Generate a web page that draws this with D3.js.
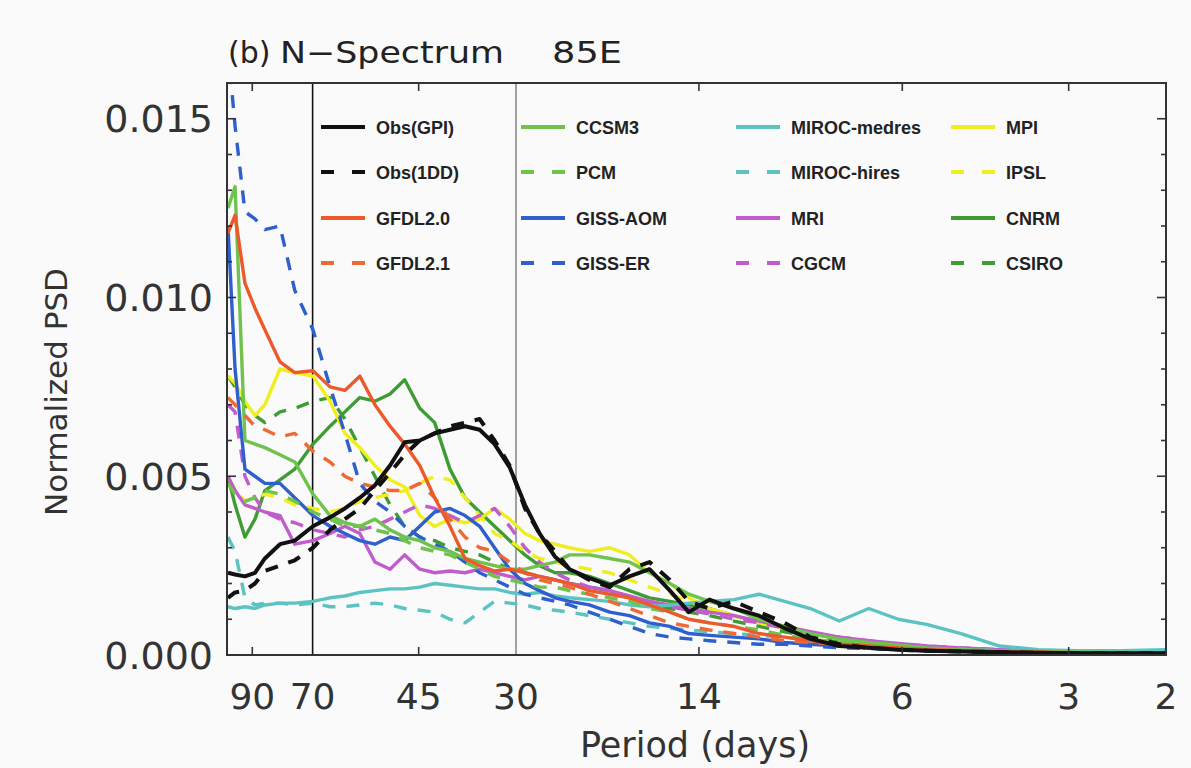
<!DOCTYPE html>
<html><head><meta charset="utf-8">
<script src="https://cdn.jsdelivr.net/npm/d3@7"></script>
<style>body{margin:0;background:#fafafa;} svg{display:block;}</style>
</head><body><svg id="chart" width="1191" height="768"></svg>
<script>
// Period (days) sample points
const periods = [99.6, 96.7, 92.8, 89.0, 85.4, 80.2, 75.4, 69.9, 65.1, 61.2, 57.5, 54.0, 50.7, 47.7, 44.8, 42.1, 39.5, 37.1, 34.9, 32.8, 30.8, 28.9, 27.2, 25.5, 24.0, 22.1, 20.3, 18.7, 17.2, 15.8, 14.6, 13.4, 12.1, 10.9, 9.8, 8.8, 7.8, 6.9, 6.1, 5.4, 4.7, 4.0, 3.4, 2.9, 2.4, 2.0];

// Normalized PSD values, in units of 1e-3
const obsGPI   = [2.3,2.25,2.2,2.3,2.7,3.1,3.2,3.6,3.85,4.1,4.4,4.75,5.3,5.95,6.0,6.2,6.3,6.4,6.3,5.9,5.25,4.2,3.4,2.75,2.4,2.15,1.95,2.2,2.4,1.8,1.2,1.55,1.3,1.1,0.75,0.45,0.25,0.2,0.15,0.12,0.1,0.08,0.06,0.05,0.05,0.05];
const obs1DD   = [1.6,1.75,1.8,2.0,2.35,2.5,2.65,3.0,3.5,3.8,4.1,4.6,5.1,5.6,6.0,6.2,6.4,6.5,6.6,6.0,5.3,4.1,3.4,2.9,2.4,2.1,1.9,2.4,2.6,2.1,1.5,1.3,1.5,1.2,0.9,0.5,0.3,0.2,0.15,0.12,0.1,0.08,0.06,0.05,0.05,0.05];
const gfdl20   = [11.8,12.3,10.4,9.7,9.1,8.2,7.9,7.95,7.5,7.4,7.8,7.0,6.4,5.9,5.3,4.4,3.6,2.7,2.5,2.35,2.4,2.3,2.2,2.1,2.0,1.8,1.7,1.6,1.4,1.2,1.0,0.9,0.8,0.6,0.5,0.4,0.3,0.25,0.2,0.15,0.12,0.1,0.08,0.06,0.06,0.05];
const gfdl21   = [7.2,7.0,6.7,6.4,6.3,6.1,6.2,5.7,5.4,5.0,4.8,4.7,4.6,4.6,4.8,4.4,3.8,3.3,3.0,2.9,2.6,2.3,2.1,2.0,1.9,1.7,1.5,1.3,1.1,0.9,0.8,0.7,0.6,0.5,0.4,0.35,0.3,0.22,0.18,0.14,0.12,0.1,0.08,0.06,0.05,0.05];
const ccsm3    = [12.5,13.1,6.0,5.9,5.8,5.6,5.4,4.5,3.9,3.7,3.6,3.8,3.5,3.3,3.2,3.0,2.9,2.7,2.6,2.5,2.4,2.4,2.5,2.6,2.8,2.8,2.7,2.6,2.3,2.0,1.7,1.5,1.3,1.0,0.8,0.6,0.45,0.35,0.28,0.2,0.15,0.12,0.1,0.08,0.07,0.06];
const pcm      = [4.8,4.5,4.3,4.4,4.6,4.5,4.3,4.0,3.8,3.6,3.6,3.5,3.4,3.2,3.0,2.9,2.8,2.6,2.4,2.2,2.1,2.0,1.9,1.9,1.8,1.7,1.6,1.5,1.3,1.2,1.0,0.9,0.8,0.7,0.55,0.45,0.35,0.28,0.22,0.17,0.13,0.1,0.08,0.07,0.06,0.06];
const gissAOM  = [12.0,8.0,5.2,5.0,4.8,4.8,4.4,3.9,3.6,3.4,3.2,3.1,3.3,3.2,3.6,4.0,4.1,3.9,3.6,3.0,2.4,2.0,1.8,1.6,1.5,1.4,1.2,1.1,0.9,0.8,0.6,0.55,0.5,0.45,0.35,0.3,0.25,0.2,0.16,0.12,0.1,0.08,0.06,0.05,0.05,0.05];
const gissER   = [17.0,14.8,12.4,12.2,11.9,12.0,10.2,9.1,7.5,6.2,4.8,4.3,4.0,3.6,3.3,3.1,2.9,2.6,2.3,2.1,1.9,1.7,1.6,1.5,1.4,1.2,1.0,0.8,0.6,0.5,0.45,0.4,0.35,0.3,0.3,0.25,0.2,0.18,0.15,0.12,0.1,0.08,0.06,0.05,0.05,0.05];
const mirocMed = [1.35,1.3,1.35,1.3,1.4,1.45,1.45,1.5,1.6,1.65,1.75,1.8,1.85,1.85,1.9,2.0,1.95,1.9,1.85,1.85,1.75,1.7,1.75,1.65,1.6,1.55,1.5,1.4,1.35,1.4,1.45,1.5,1.55,1.7,1.5,1.3,0.95,1.3,1.0,0.85,0.6,0.25,0.15,0.12,0.12,0.15];
const mirocHi  = [3.3,2.9,1.6,1.4,1.45,1.45,1.4,1.45,1.35,1.35,1.4,1.45,1.4,1.3,1.25,1.2,1.0,0.9,1.2,1.5,1.45,1.4,1.3,1.25,1.2,1.1,1.0,0.9,0.8,0.75,0.7,0.65,0.6,0.55,0.5,0.4,0.35,0.3,0.25,0.2,0.16,0.12,0.1,0.09,0.1,0.12];
const mri      = [5.0,4.6,4.2,4.1,4.0,3.9,3.1,3.2,3.4,3.6,3.4,2.6,2.4,2.8,2.4,2.3,2.35,2.3,2.4,2.3,2.2,2.1,2.2,2.1,2.0,1.9,1.8,1.65,1.5,1.4,1.3,1.2,1.1,0.95,0.8,0.65,0.5,0.4,0.32,0.25,0.2,0.15,0.12,0.1,0.1,0.1];
const cgcm     = [7.0,6.8,5.0,4.4,4.0,3.8,3.7,3.5,3.4,3.3,3.5,3.6,3.8,4.0,4.2,4.1,3.9,3.7,3.9,4.1,3.6,3.0,2.6,2.3,2.1,1.9,1.8,1.6,1.5,1.35,1.25,1.15,1.0,0.9,0.75,0.6,0.5,0.4,0.3,0.25,0.2,0.15,0.12,0.1,0.1,0.1];
const mpi      = [7.8,7.6,7.1,6.7,7.0,8.0,7.9,7.8,7.1,6.2,5.8,5.3,4.9,4.7,3.9,3.6,3.8,3.7,3.8,4.1,3.8,3.4,3.2,3.1,3.0,2.9,3.0,2.8,2.3,2.0,1.6,1.3,1.1,0.9,0.75,0.6,0.45,0.35,0.28,0.22,0.17,0.12,0.1,0.08,0.07,0.06];
const ipsl     = [5.0,4.6,4.3,4.4,4.5,4.4,4.2,4.1,4.0,4.1,4.3,4.4,4.5,4.6,4.8,5.0,4.9,4.4,3.9,3.4,3.2,2.9,2.7,2.6,2.5,2.4,2.3,2.1,1.9,1.7,1.5,1.3,1.1,0.9,0.75,0.6,0.45,0.35,0.28,0.22,0.17,0.12,0.1,0.08,0.07,0.06];
const cnrm     = [5.0,4.2,3.3,3.8,4.6,4.9,5.2,5.9,6.4,6.8,7.2,7.1,7.3,7.7,6.9,6.5,5.2,4.4,4.0,3.6,3.2,2.8,2.5,2.3,2.3,2.2,2.0,1.8,1.6,1.5,1.4,1.3,1.1,0.9,0.8,0.6,0.45,0.35,0.28,0.2,0.15,0.12,0.1,0.09,0.08,0.07];
const csiro    = [7.8,7.5,7.0,6.7,6.5,6.8,6.9,7.1,7.2,6.6,5.8,5.0,4.2,3.6,3.3,3.2,3.0,2.9,2.8,2.6,2.4,2.3,2.2,2.1,2.0,1.9,1.8,1.6,1.4,1.3,1.2,1.1,0.95,0.8,0.65,0.5,0.4,0.3,0.25,0.2,0.15,0.12,0.1,0.09,0.08,0.07];

const seriesNames = ["Obs(GPI)","Obs(1DD)","GFDL2.0","GFDL2.1","CCSM3","PCM","GISS-AOM","GISS-ER","MIROC-medres","MIROC-hires","MRI","CGCM","MPI","IPSL","CNRM","CSIRO"];
const seriesValues = [obsGPI,obs1DD,gfdl20,gfdl21,ccsm3,pcm,gissAOM,gissER,mirocMed,mirocHi,mri,cgcm,mpi,ipsl,cnrm,csiro];
const seriesColors = ["#111111","#111111","#ec5a2c","#ec6a34","#6fc24e","#6fc24e","#2f5fcc","#2f5fcc","#5cc3c3","#5cc3c3","#c05ccc","#c05ccc","#f0ee1e","#f0ee1e","#3f9c35","#3f9c35"];
const seriesDashed = [false,true,false,true,false,true,false,true,false,true,false,true,false,true,false,true];

const xTickValues = [90, 70, 45, 30, 14, 6, 3, 2];
const yMajorTicks = [0, 0.005, 0.010, 0.015];
const yMinorTicks = d3.range(0, 0.0161, 0.001);

const svg = d3.select("#chart");
const L = 227, R = 1166, T = 83, B = 655;
const x = d3.scaleLog().domain([100, 2]).range([L, R]);
const y = d3.scaleLinear().domain([0, 0.016]).range([B, T]);
const FONT = "'DejaVu Sans', sans-serif";

svg.append("rect").attr("width",1191).attr("height",768).attr("fill","#fafafa");

svg.append("defs").append("clipPath").attr("id","clip")
  .append("rect").attr("x",L).attr("y",T).attr("width",R-L).attr("height",B-T);

// vertical reference lines
svg.append("line").attr("x1",x(70)).attr("x2",x(70)).attr("y1",T).attr("y2",B)
  .attr("stroke","#111").attr("stroke-width",1.6);
svg.append("line").attr("x1",x(30)).attr("x2",x(30)).attr("y1",T).attr("y2",B)
  .attr("stroke","#8a8a8a").attr("stroke-width",1.6);

// series
const data = seriesNames.map((n,i)=>({name:n, color:seriesColors[i], dashed:seriesDashed[i],
  pts: periods.map((p,j)=>[p, seriesValues[i][j]/1000])}));
const line = d3.line().x(d=>x(d[0])).y(d=>y(d[1]));
const drawOrder = d3.range(data.length).reverse();
const gLines = svg.append("g").attr("clip-path","url(#clip)");
drawOrder.forEach(i=>{
  const s = data[i];
  gLines.append("path").attr("d", line(s.pts)).attr("fill","none")
    .attr("stroke", s.color).attr("stroke-width", i<2 ? 4 : 3.4)
    .attr("stroke-linejoin","round")
    .attr("stroke-dasharray", s.dashed ? "13,11" : null);
});

// frame
svg.append("rect").attr("x",L).attr("y",T).attr("width",R-L).attr("height",B-T)
  .attr("fill","none").attr("stroke","#333").attr("stroke-width",2);

// y ticks (left and right, inward)
yMinorTicks.forEach(v=>{
  const major = yMajorTicks.some(m=>Math.abs(m-v)<1e-9);
  const len = major ? 9 : 5;
  svg.append("line").attr("x1",L).attr("x2",L+len).attr("y1",y(v)).attr("y2",y(v)).attr("stroke","#333").attr("stroke-width",1.6);
  svg.append("line").attr("x1",R).attr("x2",R-len).attr("y1",y(v)).attr("y2",y(v)).attr("stroke","#333").attr("stroke-width",1.6);
});
yMajorTicks.forEach(v=>{
  svg.append("text").attr("x",213).attr("y",y(v)+13.5).attr("text-anchor","end")
    .attr("font-family",FONT).attr("font-size",38).attr("fill","#333").text(d3.format(".3f")(v));
});

// x ticks
xTickValues.forEach(p=>{
  if (p!==70 && p!==30 && p!==2) {
    svg.append("line").attr("x1",x(p)).attr("x2",x(p)).attr("y1",B).attr("y2",B-8).attr("stroke","#333").attr("stroke-width",1.6);
    svg.append("line").attr("x1",x(p)).attr("x2",x(p)).attr("y1",T).attr("y2",T+8).attr("stroke","#333").attr("stroke-width",1.6);
  }
  svg.append("text").attr("x",x(p)).attr("y",709).attr("text-anchor","middle")
    .attr("font-family",FONT).attr("font-size",36).attr("fill","#333").text(p);
});

// axis titles
svg.append("text").attr("x",695).attr("y",757).attr("text-anchor","middle")
  .attr("font-family",FONT).attr("font-size",35).attr("fill","#333").text("Period (days)");
svg.append("text").attr("transform","translate(67,392) rotate(-90)").attr("text-anchor","middle")
  .attr("font-family",FONT).attr("font-size",31).attr("fill","#333").text("Normalized PSD");

// title
svg.append("text").attr("x",228).attr("y",63).attr("font-family",FONT).attr("font-size",30).attr("fill","#222").text("(b)");
svg.append("text").attr("x",280).attr("y",63).attr("font-family",FONT).attr("font-size",30)
  .attr("textLength",224).attr("lengthAdjust","spacingAndGlyphs").attr("fill","#222").text("N\u2212Spectrum");
svg.append("text").attr("x",552).attr("y",63).attr("font-family",FONT).attr("font-size",30)
  .attr("textLength",70).attr("lengthAdjust","spacingAndGlyphs").attr("fill","#222").text("85E");

// legend
const legColX = [321, 521, 736, 951];
const legRowY = [127, 172, 218, 263];
data.forEach((s,i)=>{
  const cx = legColX[Math.floor(i/4)], cy = legRowY[i%4];
  svg.append("line").attr("x1",cx).attr("x2",cx+44).attr("y1",cy).attr("y2",cy)
    .attr("stroke",s.color).attr("stroke-width",4)
    .attr("stroke-dasharray", s.dashed ? "13,18" : null);
  svg.append("text").attr("x",cx+55).attr("y",cy+6.5).attr("font-family","'Liberation Sans', Arial, sans-serif")
    .attr("font-weight","bold").attr("font-size",18).attr("fill","#222").text(s.name);
});
</script></body></html>
